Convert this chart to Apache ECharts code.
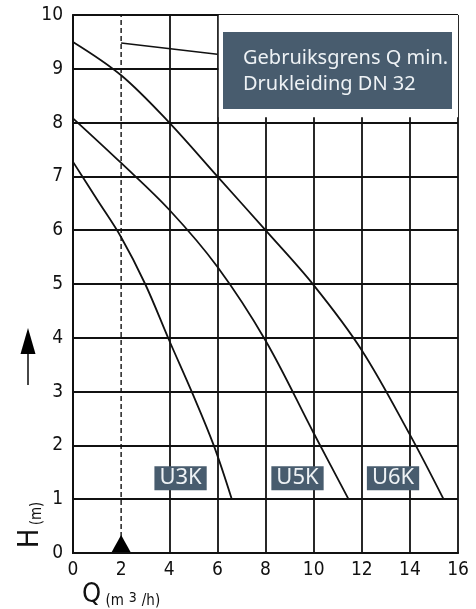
<!DOCTYPE html>
<html>
<head>
<meta charset="utf-8">
<script src="https://cdn.jsdelivr.net/npm/echarts@6/dist/echarts.min.js"></script>
<style>html,body{margin:0;padding:0;background:#fff;}#c{width:476px;height:609px;}</style>
</head>
<body>
<div id="c"></div>
<script>
// ---- data ----
const xTicks = [0, 2, 4, 6, 8, 10, 12, 14, 16];
const yTicks = [0, 1, 2, 3, 4, 5, 6, 7, 8, 9, 10];
const u3k = [[0, 7.27], [1, 6.57], [2, 5.87], [3, 5.0], [4, 3.95], [5, 2.93], [5.85, 2.0], [6.6, 1.0]];
const u5k = [[0, 8.08], [2, 7.25], [4, 6.38], [6, 5.32], [8, 3.95], [10, 2.23], [11.45, 1.0]];
const u6k = [[0, 9.5], [2, 8.88], [4, 8.0], [6, 7.0], [8, 6.0], [10, 4.98], [12, 3.77], [14, 2.2], [15.4, 1.0]];
const limitLine = [[2, 9.48], [6, 9.27]];
const qMin = 2;
const curveNames = ['U3K', 'U5K', 'U6K'];
const curveLabelAt = [[4.47, 1.39], [9.33, 1.39], [13.3, 1.39]];
const noteLines = ['Gebruiksgrens Q min.', 'Drukleiding DN 32'];

const FONT = '"DejaVu Sans Condensed", "DejaVu Sans", sans-serif';
const LABEL_FONT = '"Noto Sans", "DejaVu Sans", sans-serif';
const BOX = '#485c6e';
const INK = '#111';

const chart = echarts.init(document.getElementById('c'), null, {renderer: 'canvas'});

function curve(name, data, labelPos) {
  return {
    type: 'line', name: name, data: data, smooth: 0.35, symbol: 'none',
    lineStyle: {color: INK, width: 1.8}, z: 5,
    markPoint: {
      symbol: 'rect', symbolSize: 1, itemStyle: {color: 'rgba(0,0,0,0)'},
      label: {
        show: true, formatter: name, color: '#eef2f5', fontFamily: LABEL_FONT,
        fontSize: 22, backgroundColor: BOX, padding: [1, 5, 0, 5], lineHeight: 23
      },
      data: [{coord: labelPos}]
    }
  };
}

const splitColors = xTicks.map(v => v === qMin ? 'rgba(0,0,0,0)' : INK);

chart.setOption({
  animation: false,
  grid: {left: 73, right: 18, top: 15, bottom: 56, containLabel: false},
  xAxis: [{
    type: 'value', min: xTicks[0], max: xTicks[xTicks.length - 1], interval: 2,
    axisLine: {show: true, onZero: false, lineStyle: {color: INK, width: 1.8}},
    axisTick: {show: false},
    axisLabel: {color: INK, fontFamily: FONT, fontSize: 19, margin: 8},
    splitLine: {show: true, lineStyle: {color: splitColors, width: 1.8}}
  }, {
    type: 'value', position: 'top', min: 0, max: 16, interval: 2, z: 10,
    axisLine: {show: true, lineStyle: {color: INK, width: 1.8}},
    axisTick: {show: false}, axisLabel: {show: false}, splitLine: {show: false}
  }],
  yAxis: [{
    type: 'value', min: yTicks[0], max: yTicks[yTicks.length - 1], interval: 1,
    axisLine: {show: true, onZero: false, lineStyle: {color: INK, width: 1.8}},
    axisTick: {show: false},
    axisLabel: {color: INK, fontFamily: FONT, fontSize: 19, margin: 10},
    splitLine: {show: true, lineStyle: {color: INK, width: 1.8}}
  }, {
    type: 'value', position: 'right', min: 0, max: 10, interval: 1, z: 10,
    axisLine: {show: true, lineStyle: {color: INK, width: 1.8}},
    axisTick: {show: false}, axisLabel: {show: false}, splitLine: {show: false}
  }],
  series: [
    {
      type: 'line', data: [[qMin, 0], [qMin, 10]], symbol: 'none', z: 3,
      lineStyle: {color: INK, width: 1.4, type: [5, 3]},
      markArea: {
        silent: true, itemStyle: {color: '#fff'},
        data: [[{coord: [6.06, 8.1]}, {coord: [16, 10]}]]
      }
    },
    {
      type: 'line', data: limitLine, symbol: 'none', z: 5,
      lineStyle: {color: INK, width: 1.6}
    },
    curve(curveNames[0], u3k, curveLabelAt[0]),
    curve(curveNames[1], u5k, curveLabelAt[1]),
    curve(curveNames[2], u6k, curveLabelAt[2]),
    {
      type: 'scatter', data: [[qMin, 0]], symbol: 'triangle', symbolSize: [20, 18],
      symbolOffset: [0, -9], itemStyle: {color: '#000', opacity: 1}, clip: false, z: 6, silent: true
    }
  ],
  graphic: [
    {type: 'rect', shape: {x: 223, y: 32, width: 229, height: 77}, style: {fill: BOX}, z: 20},
    {type: 'text', x: 243, y: 58, style: {text: noteLines[0], fill: '#eef2f5', font: '20px ' + LABEL_FONT, textVerticalAlign: 'middle'}, z: 21},
    {type: 'text', x: 243, y: 84, style: {text: noteLines[1], fill: '#eef2f5', font: '20px ' + LABEL_FONT, textVerticalAlign: 'middle'}, z: 21},
    // y-axis title (rotated) and arrow
    {type: 'text', x: 30, y: 525, rotation: Math.PI / 2,
      style: {text: '{b|H} {s|(m)}', rich: {
        b: {fontSize: 29, fontFamily: FONT, fill: INK, verticalAlign: 'bottom'},
        s: {fontSize: 15, fontFamily: FONT, fill: INK, verticalAlign: 'bottom'}},
        textAlign: 'center', textVerticalAlign: 'middle'}},
    {type: 'line', shape: {x1: 28, y1: 352, x2: 28, y2: 385}, style: {stroke: '#333', lineWidth: 1.8}},
    {type: 'polygon', shape: {points: [[28, 328], [20.5, 354], [35.5, 354]]}, style: {fill: '#000'}},
    // x-axis title
    {type: 'text', x: 82, y: 595,
      style: {text: '{b|Q}{s| (m}{t|3}{s|/h)}', rich: {
        b: {fontSize: 27, fontFamily: FONT, fill: INK, verticalAlign: 'bottom'},
        s: {fontSize: 15, fontFamily: FONT, fill: INK, verticalAlign: 'bottom'},
        t: {fontSize: 14, fontFamily: FONT, fill: INK, verticalAlign: 'bottom', padding: [0, 5, 3, 5]}},
        textVerticalAlign: 'middle'}}
  ]
});
</script>
</body>
</html>
